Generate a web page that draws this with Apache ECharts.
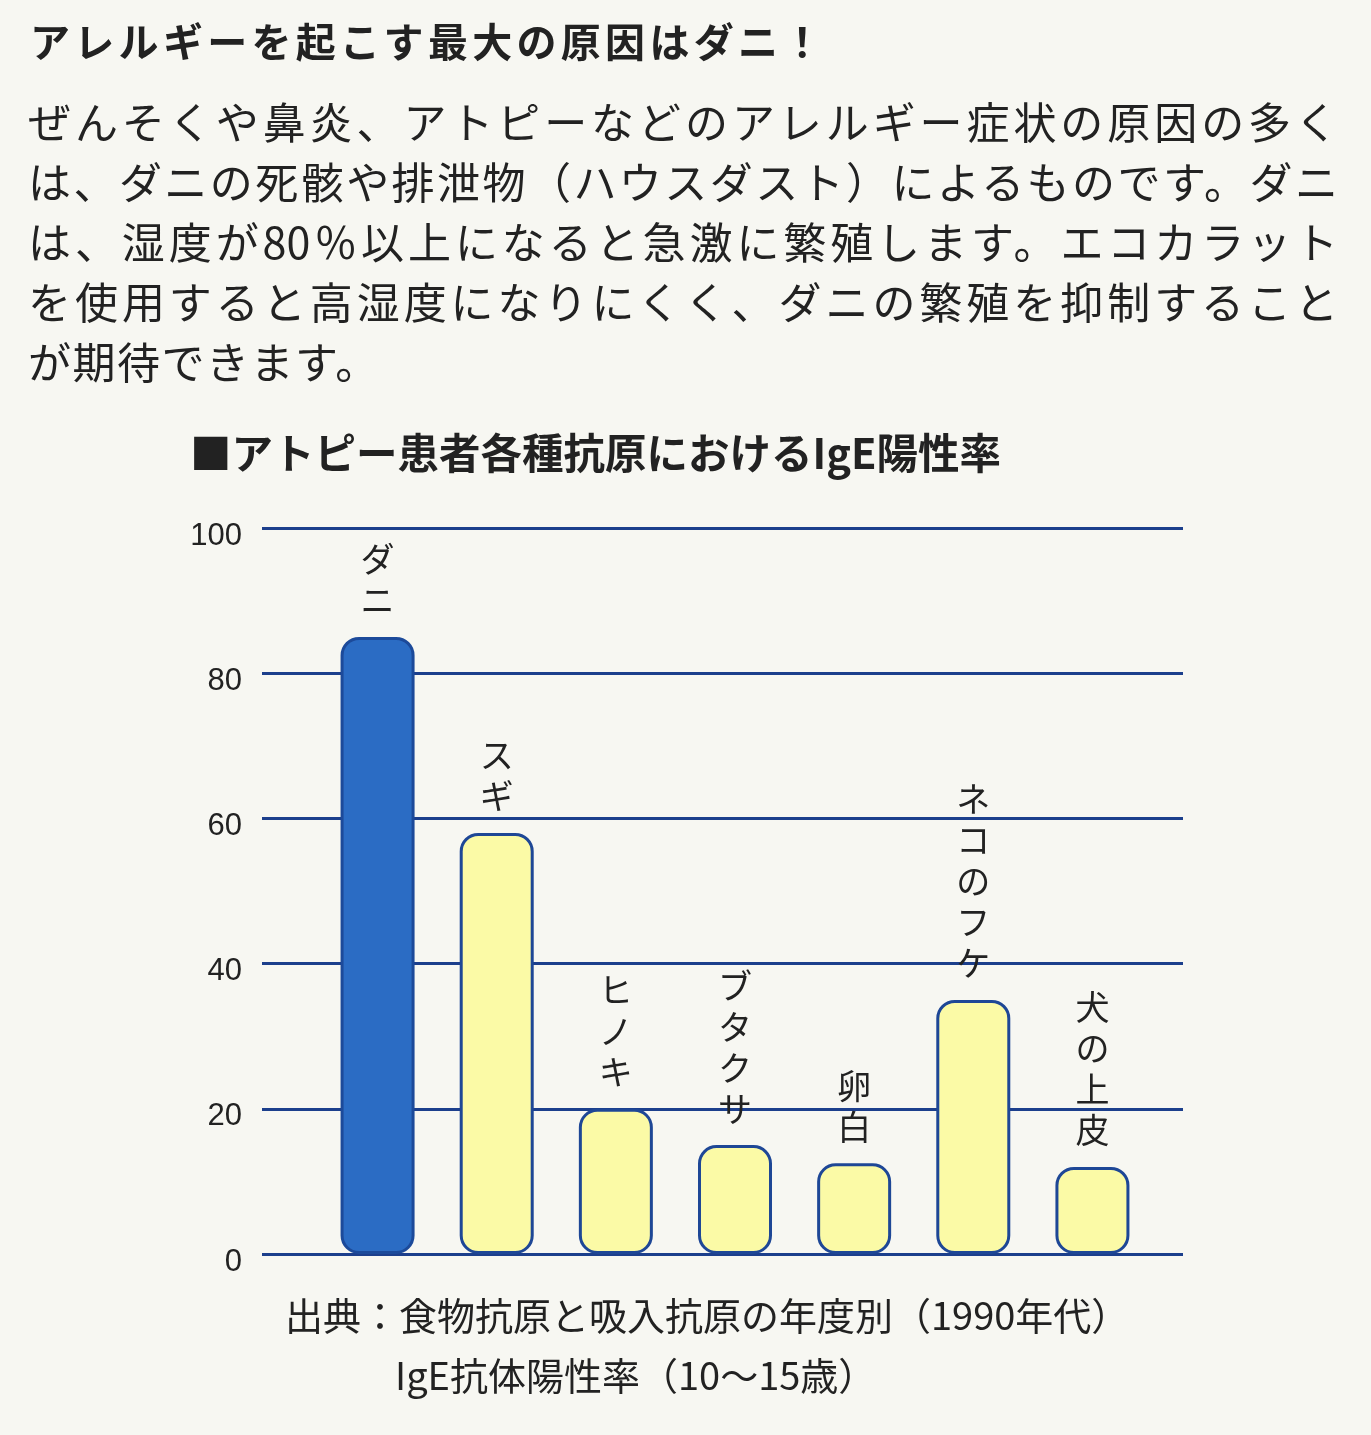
<!DOCTYPE html>
<html><head><meta charset="utf-8">
<script src="https://cdn.jsdelivr.net/npm/echarts@6/dist/echarts.min.js"></script>
<style>
html,body{margin:0;padding:0;background:#f7f7f2;}
#wrap{position:relative;width:1371px;height:1435px;overflow:hidden;}
#chart{position:absolute;left:0;top:0;width:1371px;height:1435px;}
.t{position:absolute;font-family:"Noto Sans CJK JP",sans-serif;color:#222;white-space:nowrap;z-index:2;}
.h{left:30px;top:14px;font-size:40px;font-weight:bold;letter-spacing:4.3px;line-height:52px;}
.p{left:28px;width:1310px;font-size:43px;line-height:60px;text-align:justify;text-align-last:justify;}
</style></head>
<body><div id="wrap"><div id="chart"></div>
<div class="t h">アレルギーを起こす最大の原因はダニ！</div>
<div class="t p" style="top:90px">ぜんそくや鼻炎、アトピーなどのアレルギー症状の原因の多く</div>
<div class="t p" style="top:150px">は、ダニの死骸や排泄物（ハウスダスト）によるものです。ダニ</div>
<div class="t p" style="top:210px">は、湿度が80％以上になると急激に繁殖します。エコカラット</div>
<div class="t p" style="top:270px">を使用すると高湿度になりにくく、ダニの繁殖を抑制すること</div>
<div class="t p" style="top:330px;width:auto;text-align:left;text-align-last:auto;letter-spacing:1.5px">が期待できます。</div>
</div>
<script>
const categories = ["ダニ", "スギ", "ヒノキ", "ブタクサ", "卵白", "ネコのフケ", "犬の上皮"];
const values = [85, 58, 20, 15, 12.5, 35, 12];
const yTicks = [0, 20, 40, 60, 80, 100];
const chartTitle = "■アトピー患者各種抗原におけるIgE陽性率";
const sourceLines = ["出典：食物抗原と吸入抗原の年度別（1990年代）", "IgE抗体陽性率（10～15歳）"];

const chart = echarts.init(document.getElementById('chart'), null, {renderer: 'canvas'});
const barData = values.map((v, i) => ({
  value: v,
  itemStyle: i === 0
    ? {color: '#2b6cc4', borderColor: '#1c4a9a'}
    : {color: '#fbfaa6', borderColor: '#1e4796'}
}));
chart.setOption({
  backgroundColor: '#f7f7f2',
  animation: false,
  grid: [
    {left: 262, right: 188, top: 528, bottom: 181},
    {left: 318, right: 219, top: 528, bottom: 181}
  ],
  xAxis: [
    {gridIndex: 0, type: 'category', data: categories, show: false},
    {gridIndex: 1, type: 'category', data: categories, show: false}
  ],
  yAxis: [
    {gridIndex: 0, type: 'value', min: yTicks[0], max: yTicks[yTicks.length - 1], interval: 20,
     axisLine: {show: false}, axisTick: {show: false},
     axisLabel: {margin: 20, formatter: '{a|{value}}',
       rich: {a: {fontSize: 31, color: '#222', fontFamily: 'Liberation Sans', padding: [16, 0, 0, 0]}}},
     splitLine: {lineStyle: {color: '#1c3f8c', width: 3}}},
    {gridIndex: 1, type: 'value', min: 0, max: 100, show: false, splitLine: {show: false}}
  ],
  series: [{
    type: 'bar', xAxisIndex: 1, yAxisIndex: 1, barWidth: 74,
    data: barData,
    itemStyle: {borderWidth: 3, borderRadius: 17},
    label: {
      show: true, position: 'top', distance: 16,
      formatter: p => p.name.split('').join('\n'),
      fontSize: 34, lineHeight: 41, color: '#222',
      fontFamily: '"Noto Sans CJK JP", sans-serif'
    }
  }],
  graphic: [
    {type: 'text', left: 190, top: 432, style: {text: chartTitle, fontSize: 41.5, fontWeight: 'bold',
      fontFamily: '"Noto Sans CJK JP", sans-serif', fill: '#222'}},
    {type: 'text', left: 285, top: 1297, style: {text: sourceLines[0], fontSize: 38,
      fontFamily: '"Noto Sans CJK JP", sans-serif', fill: '#222'}},
    {type: 'text', left: 395, top: 1357, style: {text: sourceLines[1], fontSize: 38,
      fontFamily: '"Noto Sans CJK JP", sans-serif', fill: '#222'}}
  ]
});
</script></body></html>
